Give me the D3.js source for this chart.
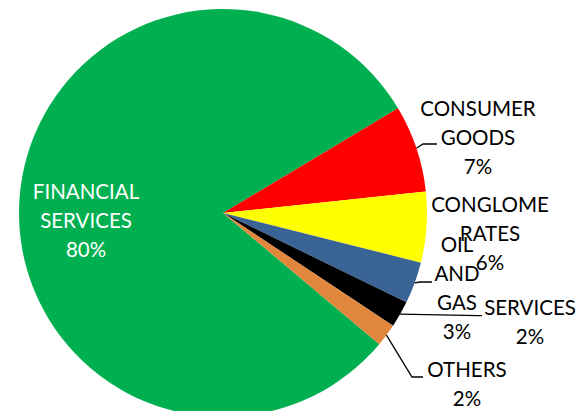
<!DOCTYPE html>
<html>
<head>
<meta charset="utf-8">
<script src="https://cdn.jsdelivr.net/npm/d3@7/dist/d3.min.js"></script>
<style>
  html, body { margin: 0; padding: 0; background: #fff; }
  svg { display: block; }
  text { font-family: Lato, "Open Sans", sans-serif; }
</style>
</head>
<body>
<svg id="chart" width="577" height="411"></svg>
<script>
// ---- data ----
const categories = ["FINANCIAL SERVICES", "CONSUMER GOODS", "CONGLOMERATES", "OIL AND GAS", "SERVICES", "OTHERS"];
const values = [80.3, 6.9, 5.6, 3.3, 2.1, 1.8];
const colors = ["#00B050", "#FF0000", "#FFFF00", "#3A6496", "#000000", "#E0873D"];
const labelLines = [
  ["FINANCIAL", "SERVICES"],
  ["CONSUMER", "GOODS"],
  ["CONGLOME", "RATES"],
  ["OIL", "AND", "GAS"],
  ["SERVICES"],
  ["OTHERS"]
];

// ---- layout (label placement, as dragged in the original) ----
const cx = 223, cy = 213, radius = 204;
const startDeg = 130.0;
const fontSize = 20.5, lineGap = 29;
const labelPos = [
  { x: 86,  y: 199, fill: "#fff", leader: null },
  { x: 478, y: 116, fill: "#000", leader: [[423, 144], [437, 144]] },
  { x: 490, y: 212, fill: "#000", leader: null },
  { x: 457, y: 252, fill: "#000", leader: [[420, 282], [432, 282]] },
  { x: 530, y: 315, fill: "#000", leader: [[478, 315.6], [482, 315.6]] },
  { x: 467, y: 377, fill: "#000", leader: [[412, 377], [423, 377]] }
];

const data = categories.map((c, i) => ({ name: c, value: values[i], i }));
const total = d3.sum(values);
const pct = d3.format(".0%");

const svg = d3.select("#chart");
const g = svg.append("g").attr("transform", `translate(${cx},${cy})`);

const start = startDeg * Math.PI / 180;
const pie = d3.pie().sort(null).value(d => d.value).startAngle(start).endAngle(start + 2 * Math.PI);
const arc = d3.arc().innerRadius(0).outerRadius(radius);
const arcs = pie(data);

g.selectAll("path.slice").data(arcs).join("path")
  .attr("class", "slice")
  .attr("d", arc)
  .attr("fill", d => colors[d.data.i]);

// leader lines
const lineGen = d3.line();
arcs.forEach(a => {
  const lp = labelPos[a.data.i];
  if (!lp.leader) return;
  const mid = (a.startAngle + a.endAngle) / 2;
  const p0 = [cx + radius * Math.sin(mid), cy - radius * Math.cos(mid)];
  svg.append("path")
    .attr("d", lineGen([p0, ...lp.leader]))
    .attr("fill", "none")
    .attr("stroke", "#000")
    .attr("stroke-width", 1.3);
});

// labels
arcs.forEach(a => {
  const i = a.data.i;
  const lp = labelPos[i];
  const lines = labelLines[i].concat([pct(a.data.value / total)]);
  const t = svg.append("text")
    .attr("text-anchor", "middle")
    .attr("font-size", fontSize)
    .attr("fill", lp.fill);
  lines.forEach((ln, k) => {
    t.append("tspan").attr("x", lp.x).attr("y", lp.y + k * lineGap).text(ln);
  });
});
</script>
</body>
</html>
